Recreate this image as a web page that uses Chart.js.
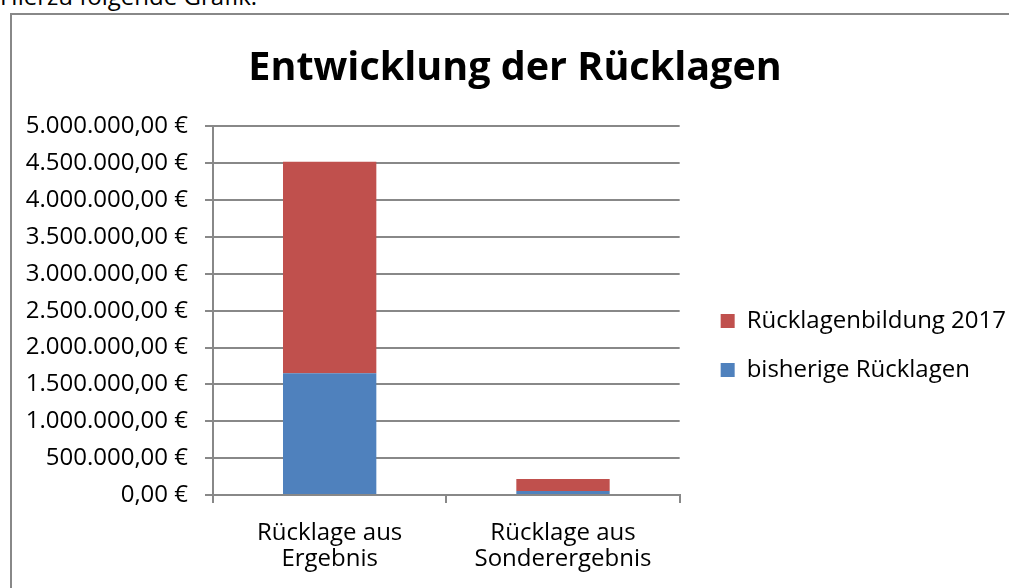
<!DOCTYPE html>
<html>
<head>
<meta charset="utf-8">
<script src="https://cdn.jsdelivr.net/npm/chart.js@4"></script>
<style>
  body { margin: 0; background: #fff; overflow: hidden; }
  #intro { position: absolute; left: 0; top: -16px; font: 24px/24px 'Open Sans', sans-serif; color: #000; }
  #frame { position: absolute; left: 10px; top: 13px; width: 1100px; height: 700px; border: 2px solid #888; }
  #wrap { position: absolute; left: 12px; top: 15px; width: 997px; height: 573px; }
</style>
</head>
<body>
<div id="intro">Hierzu folgende Grafik:</div>
<div id="frame"></div>
<div id="wrap"><canvas id="reserveChart"></canvas></div>
<script>
const categories = [['Rücklage aus', 'Ergebnis'], ['Rücklage aus', 'Sonderergebnis']];
const previousReserves = [1650000, 55000];
const reserves2017 = [2870000, 162000];
const yTickLabels = ['0,00 €', '500.000,00 €', '1.000.000,00 €', '1.500.000,00 €', '2.000.000,00 €',
  '2.500.000,00 €', '3.000.000,00 €', '3.500.000,00 €', '4.000.000,00 €', '4.500.000,00 €', '5.000.000,00 €'];

const gridGray = '#888';
const tickFont = { family: "'Open Sans', sans-serif", size: 24, lineHeight: 1.1 };

// move legend + title a bit like in the original
const layoutTweaks = {
  id: 'layoutTweaks',
  afterLayout(chart) {
    const lg = chart.legend;
    lg.left += 16; lg.right += 16;
    lg.top += 44; lg.bottom += 44;
    const t = chart.titleBlock;
    t.left += 9; t.right += 9;
  }
};

new Chart(document.getElementById('reserveChart').getContext('2d'), {
  type: 'bar',
  data: {
    labels: categories,
    datasets: [{
      label: 'bisherige Rücklagen',
      data: previousReserves,
      backgroundColor: '#4F81BD'
    }, {
      label: 'Rücklagenbildung 2017',
      data: reserves2017,
      backgroundColor: '#C0504D'
    }]
  },
  options: {
    responsive: true,
    maintainAspectRatio: false,
    animation: false,
    layout: { padding: { right: 9 } },
    datasets: { bar: { barPercentage: 0.4, categoryPercentage: 1 } },
    plugins: {
      title: {
        display: true,
        text: 'Entwicklung der Rücklagen',
        color: '#000',
        font: { family: "'Open Sans', sans-serif", size: 39.5, weight: 'bold', lineHeight: 1.2 },
        padding: { top: 30, bottom: 34 }
      },
      legend: {
        position: 'right',
        reverse: true,
        maxWidth: 329,
        labels: {
          color: '#000',
          font: tickFont,
          boxWidth: 14,
          boxHeight: 14,
          padding: 25
        }
      },
      tooltip: { enabled: false }
    },
    scales: {
      x: {
        stacked: true,
        offset: true,
        grid: { display: true, drawOnChartArea: false, offset: true, color: gridGray, lineWidth: 2, tickLength: 8 },
        border: { color: gridGray, width: 2 },
        ticks: { color: '#000', font: tickFont, padding: 17, maxRotation: 0 },
        afterFit(scale) { scale.height = 93; }
      },
      y: {
        stacked: true,
        min: 0,
        max: 5000000,
        grid: { color: gridGray, lineWidth: 2, tickLength: 8 },
        border: { color: gridGray, width: 2 },
        ticks: {
          stepSize: 500000,
          color: '#000',
          font: tickFont,
          padding: 17,
          callback: (value, index) => yTickLabels[index]
        },
        afterFit(scale) { scale.width = 201; }
      }
    }
  },
  plugins: [layoutTweaks]
});
</script>
</body>
</html>
